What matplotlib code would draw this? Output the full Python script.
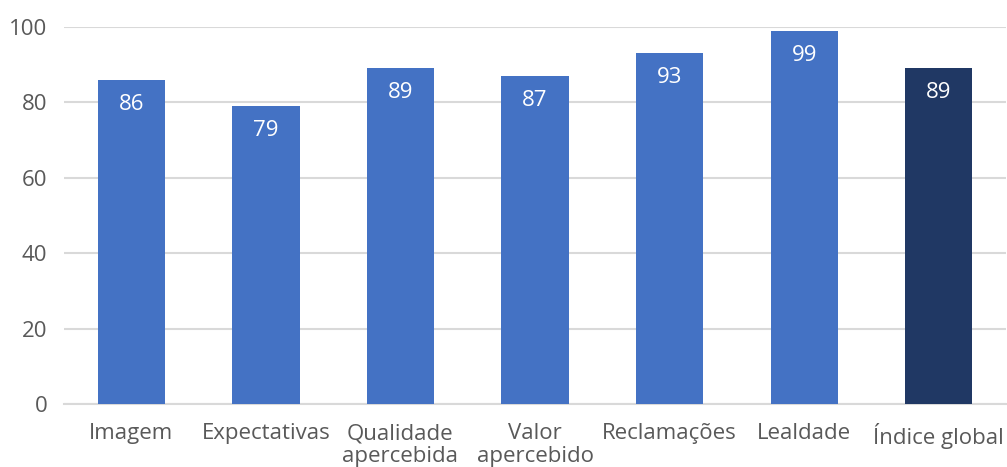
import matplotlib.pyplot as plt

categories = ["Imagem", "Expectativas", "Qualidade\napercebida", "Valor\napercebido",
              "Reclamações", "Lealdade", "Índice global"]
values = [86, 79, 89, 87, 93, 99, 89]
colors = ["#4472C4"] * 6 + ["#203864"]
yticks = [0, 20, 40, 60, 80, 100]

plt.rcParams["font.family"] = ["Open Sans", "DejaVu Sans"]

fig = plt.figure(figsize=(10.07, 4.67), dpi=100)
ax = fig.add_axes([64 / 1007, 63 / 467, 942 / 1007, 377 / 467])

x = range(len(categories))
bars = ax.bar(x, values, width=0.5, color=colors, zorder=3)

for b, v in zip(bars, values):
    ax.text(b.get_x() + b.get_width() / 2, v - 6.5, str(v), ha="center", va="center",
            color="white", fontsize=16)

ax.set_xlim(-0.5, len(categories) - 0.5)
ax.set_ylim(0, 100)
ax.set_yticks(yticks)
ax.set_xticks(list(x))
ax.set_xticklabels(categories, linespacing=1.1)
ax.tick_params(axis="both", length=0, colors="#595959", labelsize=16)
ax.tick_params(axis="y", pad=12)
ax.tick_params(axis="x", pad=14)
ax.yaxis.grid(True, color="#D9D9D9", linewidth=1.5, zorder=0)
for s in ["top", "right", "left"]:
    ax.spines[s].set_visible(False)
ax.spines["bottom"].set_color("#D9D9D9")
ax.spines["bottom"].set_linewidth(1.5)

fig.savefig("out.png", dpi=100)
